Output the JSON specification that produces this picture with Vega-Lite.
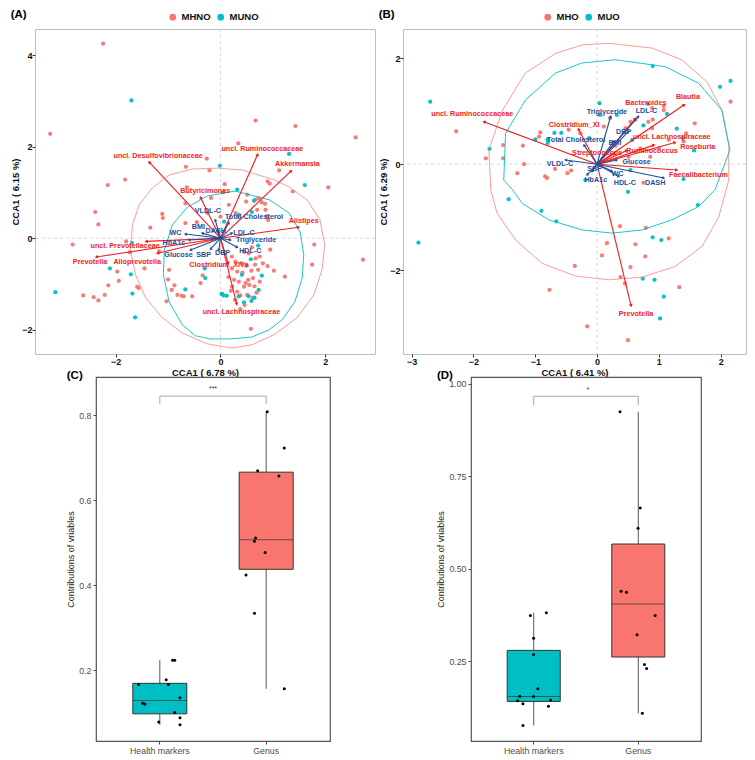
{
"$schema": "https://vega.github.io/schema/vega-lite/v6.json",
"padding": {"left": 10, "top": 8, "right": 0, "bottom": 0},
"background": "white",
"config": {"font": "Liberation Sans", "axis": {"grid": false, "domain": false}},
"datasets": {
"ptsA": [
{"x":-2.24,"y":4.25,"g":"MHNO"},{"x":-3.25,"y":2.28,"g":"MHNO"},{"x":0.67,"y":2.57,"g":"MHNO"},{"x":1.43,"y":2.45,"g":"MHNO"},{"x":2.58,"y":2.20,"g":"MHNO"},{"x":0.34,"y":2.07,"g":"MHNO"},{"x":-0.26,"y":1.74,"g":"MHNO"},{"x":-0.66,"y":1.56,"g":"MHNO"},{"x":-0.21,"y":1.48,"g":"MHNO"},{"x":1.12,"y":1.48,"g":"MHNO"},{"x":2.06,"y":1.11,"g":"MHNO"},{"x":-2.15,"y":1.16,"g":"MHNO"},{"x":-1.82,"y":1.28,"g":"MHNO"},{"x":0.08,"y":1.18,"g":"MHNO"},{"x":0.90,"y":1.24,"g":"MHNO"},{"x":0.94,"y":1.19,"g":"MHNO"},{"x":-0.64,"y":1.11,"g":"MHNO"},{"x":-2.39,"y":0.57,"g":"MHNO"},{"x":-2.33,"y":0.30,"g":"MHNO"},{"x":-2.82,"y":-0.14,"g":"MHNO"},{"x":-1.80,"y":-0.07,"g":"MHNO"},{"x":-1.73,"y":-0.31,"g":"MHNO"},{"x":-1.97,"y":-0.73,"g":"MHNO"},{"x":-1.45,"y":-0.66,"g":"MHNO"},{"x":-1.94,"y":-0.93,"g":"MHNO"},{"x":-2.14,"y":-1.03,"g":"MHNO"},{"x":-1.56,"y":-1.09,"g":"MHNO"},{"x":-2.21,"y":-1.24,"g":"MHNO"},{"x":-2.62,"y":-1.25,"g":"MHNO"},{"x":-2.42,"y":-1.29,"g":"MHNO"},{"x":-2.33,"y":-1.36,"g":"MHNO"},{"x":-1.11,"y":0.53,"g":"MHNO"},{"x":-1.10,"y":0.44,"g":"MHNO"},{"x":-0.67,"y":0.33,"g":"MHNO"},{"x":-1.34,"y":0.23,"g":"MHNO"},{"x":-1.00,"y":-0.90,"g":"MHNO"},{"x":-0.88,"y":-1.03,"g":"MHNO"},{"x":-0.74,"y":-1.26,"g":"MHNO"},{"x":-0.93,"y":-1.13,"g":"MHNO"},{"x":-0.54,"y":-1.27,"g":"MHNO"},{"x":-0.34,"y":-0.81,"g":"MHNO"},{"x":0.03,"y":-1.21,"g":"MHNO"},{"x":0.58,"y":-1.98,"g":"MHNO"},{"x":1.23,"y":-0.84,"g":"MHNO"},{"x":1.75,"y":-0.58,"g":"MHNO"},{"x":1.79,"y":-0.14,"g":"MHNO"},{"x":2.72,"y":-0.47,"g":"MHNO"},{"x":1.38,"y":1.02,"g":"MHNO"},{"x":0.89,"y":0.48,"g":"MHNO"},{"x":1.02,"y":-0.71,"g":"MHNO"},{"x":0.81,"y":-0.55,"g":"MHNO"},{"x":0.90,"y":-0.61,"g":"MHNO"},{"x":0.72,"y":-0.69,"g":"MHNO"},{"x":0.66,"y":-0.58,"g":"MHNO"},{"x":0.67,"y":-0.44,"g":"MHNO"},{"x":0.54,"y":-0.33,"g":"MHNO"},{"x":0.50,"y":-0.60,"g":"MHNO"},{"x":0.59,"y":-0.71,"g":"MHNO"},{"x":0.62,"y":-0.87,"g":"MHNO"},{"x":0.53,"y":-0.91,"g":"MHNO"},{"x":0.48,"y":-0.98,"g":"MHNO"},{"x":0.55,"y":-1.02,"g":"MHNO"},{"x":0.69,"y":-1.19,"g":"MHNO"},{"x":0.51,"y":-1.24,"g":"MHNO"},{"x":0.46,"y":-1.46,"g":"MHNO"},{"x":-0.98,"y":-0.69,"g":"MHNO"},{"x":-0.70,"y":-1.27,"g":"MHNO"},{"x":-0.82,"y":-1.24,"g":"MHNO"},{"x":-0.38,"y":-0.98,"g":"MHNO"},{"x":-1.03,"y":-1.38,"g":"MHNO"},{"x":0.22,"y":-0.40,"g":"MHNO"},{"x":0.29,"y":-0.51,"g":"MHNO"},{"x":0.22,"y":-0.66,"g":"MHNO"},{"x":0.32,"y":-0.73,"g":"MHNO"},{"x":0.26,"y":-0.91,"g":"MHNO"},{"x":0.35,"y":-0.95,"g":"MHNO"},{"x":0.22,"y":-1.06,"g":"MHNO"},{"x":0.45,"y":-1.06,"g":"MHNO"},{"x":0.32,"y":-1.17,"g":"MHNO"},{"x":-1.59,"y":-1.06,"g":"MHNO"},{"x":-1.17,"y":-0.29,"g":"MHNO"},{"x":0.05,"y":1.00,"g":"MHNO"},{"x":-0.18,"y":0.88,"g":"MHNO"},{"x":0.16,"y":0.73,"g":"MHNO"},{"x":-0.67,"y":0.76,"g":"MHNO"},{"x":0.00,"y":0.47,"g":"MHNO"},{"x":0.29,"y":0.55,"g":"MHNO"},{"x":0.51,"y":0.95,"g":"MHNO"},{"x":0.49,"y":0.80,"g":"MHNO"},{"x":0.67,"y":0.84,"g":"MHNO"},{"x":0.73,"y":0.87,"g":"MHNO"},{"x":0.79,"y":0.78,"g":"MHNO"},{"x":0.85,"y":0.75,"g":"MHNO"},{"x":0.86,"y":0.62,"g":"MHNO"},{"x":0.70,"y":0.62,"g":"MHNO"},{"x":0.91,"y":0.40,"g":"MHNO"},{"x":0.40,"y":-0.55,"g":"MHNO"},{"x":0.42,"y":-0.75,"g":"MHNO"},{"x":0.38,"y":-1.25,"g":"MHNO"},{"x":0.28,"y":-1.35,"g":"MHNO"},{"x":0.65,"y":-1.05,"g":"MHNO"},{"x":0.75,"y":-0.95,"g":"MHNO"},{"x":0.60,"y":-0.20,"g":"MHNO"},{"x":0.45,"y":-0.30,"g":"MHNO"},{"x":0.15,"y":-0.85,"g":"MHNO"},{"x":0.95,"y":-0.25,"g":"MHNO"},{"x":-0.45,"y":0.35,"g":"MHNO"},{"x":-0.25,"y":0.55,"g":"MHNO"},{"x":0.38,"y":-1.55,"g":"MHNO"},{"x":0.62,"y":-1.30,"g":"MHNO"},{"x":0.20,"y":-1.15,"g":"MHNO"},{"x":0.75,"y":-0.40,"g":"MHNO"},
{"x":-1.70,"y":3.01,"g":"MUNO"},{"x":1.31,"y":1.84,"g":"MUNO"},{"x":-0.01,"y":1.58,"g":"MUNO"},{"x":1.61,"y":1.16,"g":"MUNO"},{"x":-1.69,"y":-0.10,"g":"MUNO"},{"x":-2.11,"y":-0.66,"g":"MUNO"},{"x":-1.71,"y":-0.79,"g":"MUNO"},{"x":-3.15,"y":-1.18,"g":"MUNO"},{"x":-1.68,"y":-1.21,"g":"MUNO"},{"x":-1.63,"y":-1.73,"g":"MUNO"},{"x":-0.67,"y":-1.12,"g":"MUNO"},{"x":-0.30,"y":-0.66,"g":"MUNO"},{"x":0.06,"y":-1.25,"g":"MUNO"},{"x":0.79,"y":-0.82,"g":"MUNO"},{"x":0.73,"y":-1.13,"g":"MUNO"},{"x":0.72,"y":-0.16,"g":"MUNO"},{"x":0.58,"y":-0.46,"g":"MUNO"},{"x":0.54,"y":-1.27,"g":"MUNO"},{"x":0.59,"y":-1.37,"g":"MUNO"},{"x":-0.29,"y":-0.87,"g":"MUNO"},{"x":0.02,"y":-1.22,"g":"MUNO"},{"x":0.12,"y":-1.26,"g":"MUNO"},{"x":0.41,"y":-0.80,"g":"MUNO"},{"x":0.35,"y":-1.27,"g":"MUNO"},{"x":0.32,"y":1.06,"g":"MUNO"},{"x":0.07,"y":0.36,"g":"MUNO"},{"x":0.35,"y":0.51,"g":"MUNO"},{"x":0.64,"y":0.82,"g":"MUNO"},{"x":0.60,"y":0.57,"g":"MUNO"},{"x":0.45,"y":-1.40,"g":"MUNO"},{"x":0.65,"y":-1.30,"g":"MUNO"}
],
"ellA": [
{"x":-0.06,"y":1.53,"g":"MHNO","i":0},{"x":0.41,"y":1.49,"g":"MHNO","i":1},{"x":1.04,"y":1.27,"g":"MHNO","i":2},{"x":1.31,"y":1.12,"g":"MHNO","i":3},{"x":1.65,"y":0.84,"g":"MHNO","i":4},{"x":1.90,"y":0.40,"g":"MHNO","i":5},{"x":1.99,"y":-0.15,"g":"MHNO","i":6},{"x":1.94,"y":-0.69,"g":"MHNO","i":7},{"x":1.78,"y":-1.24,"g":"MHNO","i":8},{"x":1.46,"y":-1.74,"g":"MHNO","i":9},{"x":1.02,"y":-2.11,"g":"MHNO","i":10},{"x":0.60,"y":-2.33,"g":"MHNO","i":11},{"x":0.22,"y":-2.40,"g":"MHNO","i":12},{"x":-0.25,"y":-2.31,"g":"MHNO","i":13},{"x":-0.73,"y":-2.07,"g":"MHNO","i":14},{"x":-1.11,"y":-1.74,"g":"MHNO","i":15},{"x":-1.43,"y":-1.30,"g":"MHNO","i":16},{"x":-1.62,"y":-0.80,"g":"MHNO","i":17},{"x":-1.72,"y":-0.26,"g":"MHNO","i":18},{"x":-1.68,"y":0.29,"g":"MHNO","i":19},{"x":-1.55,"y":0.73,"g":"MHNO","i":20},{"x":-1.30,"y":1.10,"g":"MHNO","i":21},{"x":-0.98,"y":1.38,"g":"MHNO","i":22},{"x":-0.54,"y":1.51,"g":"MHNO","i":23},{"x":-0.06,"y":1.53,"g":"MHNO","i":24},
{"x":0.28,"y":1.03,"g":"MUNO","i":0},{"x":0.93,"y":0.84,"g":"MUNO","i":1},{"x":1.31,"y":0.55,"g":"MUNO","i":2},{"x":1.52,"y":0.14,"g":"MUNO","i":3},{"x":1.59,"y":-0.36,"g":"MUNO","i":4},{"x":1.56,"y":-0.87,"g":"MUNO","i":5},{"x":1.42,"y":-1.39,"g":"MUNO","i":6},{"x":1.18,"y":-1.78,"g":"MUNO","i":7},{"x":0.93,"y":-2.00,"g":"MUNO","i":8},{"x":0.60,"y":-2.16,"g":"MUNO","i":9},{"x":0.17,"y":-2.20,"g":"MUNO","i":10},{"x":-0.20,"y":-2.20,"g":"MUNO","i":11},{"x":-0.48,"y":-2.13,"g":"MUNO","i":12},{"x":-0.73,"y":-1.89,"g":"MUNO","i":13},{"x":-0.98,"y":-1.39,"g":"MUNO","i":14},{"x":-1.09,"y":-0.80,"g":"MUNO","i":15},{"x":-1.07,"y":-0.26,"g":"MUNO","i":16},{"x":-0.92,"y":0.29,"g":"MUNO","i":17},{"x":-0.63,"y":0.68,"g":"MUNO","i":18},{"x":-0.25,"y":0.92,"g":"MUNO","i":19},{"x":0.28,"y":1.03,"g":"MUNO","i":20}
],
"genA": [
{"n":"uncl. Desulfovibrionaceae","x":-1.36,"y":1.66,"lx":-1.19,"ly":1.79},
{"n":"uncl. Ruminococcaceae","x":0.71,"y":1.83,"lx":0.80,"ly":1.94},
{"n":"Akkermansia","x":1.35,"y":1.47,"lx":1.47,"ly":1.61},
{"n":"Butyricimonas","x":-0.38,"y":0.89,"lx":-0.29,"ly":1.04},
{"n":"Alistipes","x":1.49,"y":0.24,"lx":1.59,"ly":0.38},
{"n":"uncl. Prevotellaceae","x":-1.42,"y":-0.07,"lx":-1.82,"ly":-0.18},
{"n":"Prevotella","x":-2.37,"y":-0.41,"lx":-2.49,"ly":-0.52},
{"n":"Alloprevotella","x":-1.20,"y":-0.33,"lx":-1.59,"ly":-0.52},
{"n":"Clostridium_XIVa","x":0.15,"y":-0.55,"lx":-0.03,"ly":-0.58},
{"n":"uncl. Lachnospiraceae","x":0.31,"y":-1.44,"lx":0.40,"ly":-1.62}
],
"mkA": [
{"n":"VLDL-C","x":-0.10,"y":0.40,"lx":-0.24,"ly":0.60},
{"n":"Total Cholesterol","x":0.16,"y":0.34,"lx":0.64,"ly":0.47},
{"n":"BMI","x":-0.35,"y":0.11,"lx":-0.42,"ly":0.24},
{"n":"WC","x":-0.67,"y":0.09,"lx":-0.86,"ly":0.11},
{"n":"DASH","x":-0.06,"y":0.18,"lx":-0.09,"ly":0.15},
{"n":"LDL-C","x":0.22,"y":0.11,"lx":0.45,"ly":0.12},
{"n":"Triglyceride","x":0.19,"y":-0.04,"lx":0.68,"ly":-0.05},
{"n":"HDL-C","x":0.32,"y":-0.20,"lx":0.57,"ly":-0.28},
{"n":"HbA1c","x":-0.60,"y":-0.04,"lx":-0.89,"ly":-0.11},
{"n":"Glucose","x":-0.57,"y":-0.26,"lx":-0.80,"ly":-0.37},
{"n":"SBP","x":-0.19,"y":-0.24,"lx":-0.32,"ly":-0.37},
{"n":"DBP","x":-0.03,"y":-0.26,"lx":0.04,"ly":-0.33}
],
"ptsB": [
{"x":2.16,"y":1.18,"g":"MHO"},{"x":-2.28,"y":0.62,"g":"MHO"},{"x":-1.80,"y":0.11,"g":"MHO"},{"x":-1.52,"y":0.36,"g":"MHO"},{"x":-1.52,"y":0.11,"g":"MHO"},{"x":-1.29,"y":-0.17,"g":"MHO"},{"x":-1.18,"y":0.00,"g":"MHO"},{"x":-0.81,"y":-0.26,"g":"MHO"},{"x":-0.68,"y":-0.09,"g":"MHO"},{"x":-0.42,"y":-0.12,"g":"MHO"},{"x":-0.92,"y":0.60,"g":"MHO"},{"x":-0.94,"y":0.52,"g":"MHO"},{"x":-0.46,"y":0.65,"g":"MHO"},{"x":-0.27,"y":0.58,"g":"MHO"},{"x":0.11,"y":0.71,"g":"MHO"},{"x":0.21,"y":0.87,"g":"MHO"},{"x":0.89,"y":1.06,"g":"MHO"},{"x":1.08,"y":1.02,"g":"MHO"},{"x":1.08,"y":1.10,"g":"MHO"},{"x":0.90,"y":0.84,"g":"MHO"},{"x":0.54,"y":0.80,"g":"MHO"},{"x":0.89,"y":0.68,"g":"MHO"},{"x":1.58,"y":0.77,"g":"MHO"},{"x":1.44,"y":0.58,"g":"MHO"},{"x":1.16,"y":0.46,"g":"MHO"},{"x":0.75,"y":-0.35,"g":"MHO"},{"x":0.37,"y":-1.17,"g":"MHO"},{"x":0.79,"y":-1.20,"g":"MHO"},{"x":0.16,"y":-1.49,"g":"MHO"},{"x":0.62,"y":-1.51,"g":"MHO"},{"x":1.16,"y":-1.40,"g":"MHO"},{"x":0.08,"y":-1.72,"g":"MHO"},{"x":0.78,"y":-1.74,"g":"MHO"},{"x":-0.36,"y":-1.92,"g":"MHO"},{"x":0.54,"y":-1.94,"g":"MHO"},{"x":0.38,"y":-2.13,"g":"MHO"},{"x":0.45,"y":-2.25,"g":"MHO"},{"x":1.33,"y":-2.32,"g":"MHO"},{"x":-0.77,"y":-2.37,"g":"MHO"},{"x":-0.16,"y":-3.06,"g":"MHO"},{"x":0.50,"y":-3.32,"g":"MHO"},{"x":0.46,"y":0.68,"g":"MHO"},{"x":0.62,"y":0.84,"g":"MHO"},{"x":0.83,"y":0.80,"g":"MHO"},{"x":0.86,"y":0.14,"g":"MHO"},{"x":0.51,"y":0.14,"g":"MHO"},{"x":-0.48,"y":-0.17,"g":"MHO"},{"x":1.40,"y":0.43,"g":"MHO"},{"x":-0.84,"y":-0.23,"g":"MHO"},{"x":0.30,"y":0.35,"g":"MHO"},{"x":0.70,"y":0.30,"g":"MHO"},{"x":1.00,"y":0.30,"g":"MHO"},{"x":-1.20,"y":0.35,"g":"MHO"},
{"x":0.90,"y":1.85,"g":"MUO"},{"x":1.99,"y":1.46,"g":"MUO"},{"x":2.16,"y":1.57,"g":"MUO"},{"x":-2.70,"y":1.18,"g":"MUO"},{"x":-1.74,"y":0.29,"g":"MUO"},{"x":-1.00,"y":0.47,"g":"MUO"},{"x":-0.80,"y":0.47,"g":"MUO"},{"x":-0.69,"y":0.59,"g":"MUO"},{"x":-0.58,"y":0.59,"g":"MUO"},{"x":-0.13,"y":0.49,"g":"MUO"},{"x":0.04,"y":1.15,"g":"MUO"},{"x":0.05,"y":0.93,"g":"MUO"},{"x":0.32,"y":0.93,"g":"MUO"},{"x":0.82,"y":1.14,"g":"MUO"},{"x":1.13,"y":0.95,"g":"MUO"},{"x":0.75,"y":0.73,"g":"MUO"},{"x":1.29,"y":0.67,"g":"MUO"},{"x":1.39,"y":0.50,"g":"MUO"},{"x":1.57,"y":0.26,"g":"MUO"},{"x":0.57,"y":0.46,"g":"MUO"},{"x":1.40,"y":-0.28,"g":"MUO"},{"x":0.54,"y":-0.11,"g":"MUO"},{"x":-0.19,"y":-0.30,"g":"MUO"},{"x":-1.43,"y":-0.66,"g":"MUO"},{"x":-0.90,"y":-0.88,"g":"MUO"},{"x":-0.66,"y":-1.08,"g":"MUO"},{"x":-2.89,"y":-1.48,"g":"MUO"},{"x":0.50,"y":-0.52,"g":"MUO"},{"x":1.63,"y":-0.77,"g":"MUO"},{"x":0.90,"y":-1.38,"g":"MUO"},{"x":1.04,"y":-1.43,"g":"MUO"},{"x":0.74,"y":-2.16,"g":"MUO"},{"x":0.93,"y":-2.18,"g":"MUO"},{"x":1.08,"y":-2.50,"g":"MUO"},{"x":1.02,"y":-2.91,"g":"MUO"},{"x":-0.80,"y":0.40,"g":"MUO"}
],
"ellB": [
{"x":0.19,"y":2.28,"g":"MHO","i":0},{"x":0.89,"y":2.19,"g":"MHO","i":1},{"x":1.37,"y":1.97,"g":"MHO","i":2},{"x":1.78,"y":1.55,"g":"MHO","i":3},{"x":2.02,"y":1.02,"g":"MHO","i":4},{"x":2.13,"y":0.36,"g":"MHO","i":5},{"x":2.13,"y":-0.30,"g":"MHO","i":6},{"x":1.97,"y":-0.99,"g":"MHO","i":7},{"x":1.70,"y":-1.55,"g":"MHO","i":8},{"x":1.26,"y":-1.93,"g":"MHO","i":9},{"x":0.73,"y":-2.13,"g":"MHO","i":10},{"x":0.19,"y":-2.18,"g":"MHO","i":11},{"x":-0.35,"y":-2.11,"g":"MHO","i":12},{"x":-0.89,"y":-1.87,"g":"MHO","i":13},{"x":-1.32,"y":-1.43,"g":"MHO","i":14},{"x":-1.62,"y":-0.92,"g":"MHO","i":15},{"x":-1.72,"y":-0.48,"g":"MHO","i":16},{"x":-1.75,"y":0.27,"g":"MHO","i":17},{"x":-1.53,"y":1.02,"g":"MHO","i":18},{"x":-1.16,"y":1.72,"g":"MHO","i":19},{"x":-0.67,"y":2.09,"g":"MHO","i":20},{"x":-0.24,"y":2.25,"g":"MHO","i":21},{"x":0.19,"y":2.28,"g":"MHO","i":22},
{"x":0.30,"y":1.97,"g":"MUO","i":0},{"x":1.10,"y":1.84,"g":"MUO","i":1},{"x":1.64,"y":1.53,"g":"MUO","i":2},{"x":2.02,"y":1.02,"g":"MUO","i":3},{"x":2.15,"y":0.27,"g":"MUO","i":4},{"x":1.91,"y":-0.48,"g":"MUO","i":5},{"x":1.64,"y":-0.80,"g":"MUO","i":6},{"x":1.21,"y":-1.05,"g":"MUO","i":7},{"x":0.73,"y":-1.24,"g":"MUO","i":8},{"x":0.24,"y":-1.30,"g":"MUO","i":9},{"x":-0.24,"y":-1.24,"g":"MUO","i":10},{"x":-0.78,"y":-1.05,"g":"MUO","i":11},{"x":-1.21,"y":-0.74,"g":"MUO","i":12},{"x":-1.37,"y":-0.48,"g":"MUO","i":13},{"x":-1.51,"y":-0.30,"g":"MUO","i":14},{"x":-1.48,"y":0.58,"g":"MUO","i":15},{"x":-1.16,"y":1.21,"g":"MUO","i":16},{"x":-0.67,"y":1.72,"g":"MUO","i":17},{"x":-0.24,"y":1.91,"g":"MUO","i":18},{"x":0.30,"y":1.97,"g":"MUO","i":19}
],
"genB": [
{"n":"uncl. Ruminococcaceae","x":-1.83,"y":0.80,"lx":-2.02,"ly":0.95},
{"n":"Blautia","x":1.41,"y":1.12,"lx":1.47,"ly":1.26},
{"n":"Bacteroides","x":0.62,"y":0.86,"lx":0.79,"ly":1.15},
{"n":"Clostridium_XI","x":-0.30,"y":0.66,"lx":-0.37,"ly":0.74},
{"n":"uncl. Lachnospiraceae","x":0.92,"y":0.36,"lx":1.21,"ly":0.52},
{"n":"Roseburia","x":1.26,"y":0.41,"lx":1.63,"ly":0.33},
{"n":"Ruminococcus","x":0.48,"y":0.26,"lx":0.89,"ly":0.24},
{"n":"Streptococcus","x":0.28,"y":0.20,"lx":0.00,"ly":0.21},
{"n":"Faecalibacterium","x":1.29,"y":-0.11,"lx":1.64,"ly":-0.20},
{"n":"Prevotella","x":0.55,"y":-2.67,"lx":0.63,"ly":-2.82}
],
"mkB": [
{"n":"Triglyceride","x":0.22,"y":0.90,"lx":0.16,"ly":0.99},
{"n":"LDL-C","x":0.67,"y":0.90,"lx":0.80,"ly":1.00},
{"n":"DBP","x":0.51,"y":0.62,"lx":0.43,"ly":0.60},
{"n":"BMI","x":0.27,"y":0.43,"lx":0.29,"ly":0.40},
{"n":"Total Cholesterol","x":-0.21,"y":0.36,"lx":-0.34,"ly":0.46},
{"n":"VLDL-C","x":-0.51,"y":0.08,"lx":-0.60,"ly":0.00},
{"n":"Glucose","x":0.32,"y":0.08,"lx":0.64,"ly":0.04},
{"n":"SBP","x":-0.08,"y":-0.14,"lx":-0.04,"ly":-0.09},
{"n":"HbA1c","x":-0.16,"y":-0.20,"lx":-0.02,"ly":-0.30},
{"n":"WC","x":0.24,"y":-0.13,"lx":0.33,"ly":-0.18},
{"n":"HDL-C","x":0.35,"y":-0.23,"lx":0.45,"ly":-0.35},
{"n":"DASH","x":1.08,"y":-0.26,"lx":0.94,"ly":-0.36}
],
"boxC": [
{"g":"Health markers","v":0.166,"j":-0.20},{"g":"Health markers","v":0.122,"j":-0.16},{"g":"Health markers","v":0.120,"j":-0.14},{"g":"Health markers","v":0.078,"j":-0.01},{"g":"Health markers","v":0.177,"j":0.06},{"g":"Health markers","v":0.166,"j":0.08},{"g":"Health markers","v":0.223,"j":0.12},{"g":"Health markers","v":0.223,"j":0.14},{"g":"Health markers","v":0.100,"j":0.14},{"g":"Health markers","v":0.135,"j":0.19},{"g":"Health markers","v":0.088,"j":0.19},{"g":"Health markers","v":0.071,"j":0.19},
{"g":"Genus","v":0.808,"j":0.01},{"g":"Genus","v":0.723,"j":0.17},{"g":"Genus","v":0.669,"j":-0.08},{"g":"Genus","v":0.657,"j":0.12},{"g":"Genus","v":0.511,"j":-0.10},{"g":"Genus","v":0.503,"j":-0.11},{"g":"Genus","v":0.477,"j":-0.01},{"g":"Genus","v":0.424,"j":-0.19},{"g":"Genus","v":0.334,"j":-0.11},{"g":"Genus","v":0.156,"j":0.17}
],
"boxD": [
{"g":"Health markers","v":0.373,"j":-0.04},{"g":"Health markers","v":0.381,"j":0.11},{"g":"Health markers","v":0.312,"j":-0.01},{"g":"Health markers","v":0.268,"j":-0.01},{"g":"Health markers","v":0.175,"j":0.03},{"g":"Health markers","v":0.155,"j":-0.14},{"g":"Health markers","v":0.154,"j":-0.01},{"g":"Health markers","v":0.143,"j":-0.16},{"g":"Health markers","v":0.135,"j":-0.11},{"g":"Health markers","v":0.145,"j":0.15},{"g":"Health markers","v":0.128,"j":0.13},{"g":"Health markers","v":0.076,"j":-0.11},
{"g":"Genus","v":0.924,"j":-0.18},{"g":"Genus","v":0.664,"j":0.01},{"g":"Genus","v":0.609,"j":-0.01},{"g":"Genus","v":0.439,"j":-0.17},{"g":"Genus","v":0.436,"j":-0.12},{"g":"Genus","v":0.373,"j":0.15},{"g":"Genus","v":0.321,"j":-0.02},{"g":"Genus","v":0.241,"j":0.05},{"g":"Genus","v":0.230,"j":0.07},{"g":"Genus","v":0.109,"j":0.03}
],
"brC": [{"g":"Health markers","v":0.826,"i":0},{"g":"Health markers","v":0.845,"i":1},{"g":"Genus","v":0.845,"i":2},{"g":"Genus","v":0.826,"i":3}],
"brD": [{"g":"Health markers","v":0.942,"i":0},{"g":"Health markers","v":0.966,"i":1},{"g":"Genus","v":0.966,"i":2},{"g":"Genus","v":0.942,"i":3}],
"sigC": [{"g":"Health markers","v":0.862,"j":0.5,"t":"***"}],
"sigD": [{"g":"Health markers","v":0.982,"j":0.5,"t":"*"}]
},
"vconcat": [
{"hconcat": [
{"width": 340, "height": 325,
 "title": {"text": "(A)", "anchor": "start", "frame": "bounds", "fontSize": 11.5, "fontWeight": "bold", "offset": -8, "color": "#000"},
 "view": {"stroke": "#BFBFBF", "strokeWidth": 1},
 "layer": [
  {"data": {"values": [{"z": 0}]}, "mark": {"type": "rule", "strokeDash": [3,3], "color": "#CCCCCC", "strokeWidth": 0.8}, "encoding": {"x": {"field": "z", "type": "quantitative"}}},
  {"data": {"values": [{"z": 0}]}, "mark": {"type": "rule", "strokeDash": [3,3], "color": "#CCCCCC", "strokeWidth": 0.8}, "encoding": {"y": {"field": "z", "type": "quantitative"}}},
  {"data": {"name": "ptsA"}, "mark": {"type": "circle", "size": 18, "opacity": 0.95},
   "encoding": {
    "x": {"field": "x", "type": "quantitative", "scale": {"domain": [-3.54, 2.95], "nice": false, "zero": false}, "axis": {"title": "CCA1 ( 6.78 %)", "values": [-2,0,2], "format": "d", "labelFontWeight": "bold", "labelFontSize": 9, "labelColor": "#111", "titleFontSize": 9.5, "titleFontWeight": "bold", "titleColor": "#111", "tickColor": "#333", "tickSize": 3, "labelPadding": 0, "titlePadding": 1}},
    "y": {"field": "y", "type": "quantitative", "scale": {"domain": [-2.53, 4.57], "nice": false, "zero": false}, "axis": {"title": "CCA1 ( 6.15 %)", "values": [-2,0,2,4], "format": "d", "labelFontWeight": "bold", "labelFontSize": 9, "labelColor": "#111", "titleFontSize": 9.5, "titleFontWeight": "bold", "titleColor": "#111", "tickColor": "#333", "tickSize": 3, "labelPadding": 0, "titlePadding": 1}},
    "color": {"field": "g", "type": "nominal", "scale": {"domain": ["MHNO","MUNO"], "range": ["#F8766D","#00BFC4"]}, "legend": {"orient": "none", "legendX": 133, "legendY": -17, "direction": "horizontal", "title": null, "labelFontWeight": "bold", "labelFontSize": 9.5, "labelColor": "#111", "symbolType": "circle", "symbolSize": 45, "symbolOpacity": 1, "columnPadding": 5, "labelOffset": 4}}
   }},
  {"data": {"name": "ellA"}, "transform": [{"filter": "datum.g === 'MHNO'"}], "mark": {"type": "line", "color": "#F8766D", "strokeWidth": 0.9, "opacity": 0.8}, "encoding": {"x": {"field": "x", "type": "quantitative"}, "y": {"field": "y", "type": "quantitative"}, "order": {"field": "i", "type": "quantitative"}}},
  {"data": {"name": "ellA"}, "transform": [{"filter": "datum.g === 'MUNO'"}], "mark": {"type": "line", "color": "#00BFC4", "strokeWidth": 0.9}, "encoding": {"x": {"field": "x", "type": "quantitative"}, "y": {"field": "y", "type": "quantitative"}, "order": {"field": "i", "type": "quantitative"}}},
  {"data": {"name": "genA"}, "mark": {"type": "rule", "color": "#F21B1B", "strokeWidth": 1.1}, "encoding": {"x": {"field": "x", "type": "quantitative"}, "y": {"field": "y", "type": "quantitative"}, "x2": {"datum": 0}, "y2": {"datum": 0}}},
  {"data": {"name": "genA"}, "transform": [{"calculate": "atan2(datum.x*52.5, datum.y*45.8)*180/PI", "as": "a"}], "mark": {"type": "point", "shape": "triangle-up", "filled": true, "size": 14, "color": "#F21B1B", "opacity": 1}, "encoding": {"x": {"field": "x", "type": "quantitative"}, "y": {"field": "y", "type": "quantitative"}, "angle": {"field": "a", "type": "quantitative", "scale": null}}},
  {"data": {"name": "mkA"}, "mark": {"type": "rule", "color": "#1F4E9A", "strokeWidth": 1.1}, "encoding": {"x": {"field": "x", "type": "quantitative"}, "y": {"field": "y", "type": "quantitative"}, "x2": {"datum": 0}, "y2": {"datum": 0}}},
  {"data": {"name": "mkA"}, "transform": [{"calculate": "atan2(datum.x*52.5, datum.y*45.8)*180/PI", "as": "a"}], "mark": {"type": "point", "shape": "triangle-up", "filled": true, "size": 12, "color": "#1F4E9A", "opacity": 1}, "encoding": {"x": {"field": "x", "type": "quantitative"}, "y": {"field": "y", "type": "quantitative"}, "angle": {"field": "a", "type": "quantitative", "scale": null}}},
  {"data": {"name": "genA"}, "mark": {"type": "text", "fontWeight": "bold", "fontSize": 7.2, "color": "#F21B1B"}, "encoding": {"x": {"field": "lx", "type": "quantitative"}, "y": {"field": "ly", "type": "quantitative"}, "text": {"field": "n", "type": "nominal"}}},
  {"data": {"name": "mkA"}, "mark": {"type": "text", "fontWeight": "bold", "fontSize": 7.2, "color": "#1F4E9A"}, "encoding": {"x": {"field": "lx", "type": "quantitative"}, "y": {"field": "ly", "type": "quantitative"}, "text": {"field": "n", "type": "nominal"}}}
 ]},
{"width": 343, "height": 325,
 "title": {"text": "(B)", "anchor": "start", "frame": "bounds", "fontSize": 11.5, "fontWeight": "bold", "offset": -8, "color": "#000"},
 "view": {"stroke": "#BFBFBF", "strokeWidth": 1},
 "layer": [
  {"data": {"values": [{"z": 0}]}, "mark": {"type": "rule", "strokeDash": [3,3], "color": "#CCCCCC", "strokeWidth": 0.8}, "encoding": {"x": {"field": "z", "type": "quantitative"}}},
  {"data": {"values": [{"z": 0}]}, "mark": {"type": "rule", "strokeDash": [3,3], "color": "#CCCCCC", "strokeWidth": 0.8}, "encoding": {"y": {"field": "z", "type": "quantitative"}}},
  {"data": {"name": "ptsB"}, "mark": {"type": "circle", "size": 18, "opacity": 0.95},
   "encoding": {
    "x": {"field": "x", "type": "quantitative", "scale": {"domain": [-3.14, 2.41], "nice": false, "zero": false}, "axis": {"title": "CCA1 ( 6.41 %)", "values": [-3,-2,-1,0,1,2], "format": "d", "labelFontWeight": "bold", "labelFontSize": 9, "labelColor": "#111", "titleFontSize": 9.5, "titleFontWeight": "bold", "titleColor": "#111", "tickColor": "#333", "tickSize": 3, "labelPadding": 0, "titlePadding": 1}},
    "y": {"field": "y", "type": "quantitative", "scale": {"domain": [-3.58, 2.55], "nice": false, "zero": false}, "axis": {"title": "CCA1 ( 6.29 %)", "values": [-2,0,2], "format": "d", "labelFontWeight": "bold", "labelFontSize": 9, "labelColor": "#111", "titleFontSize": 9.5, "titleFontWeight": "bold", "titleColor": "#111", "tickColor": "#333", "tickSize": 3, "labelPadding": 0, "titlePadding": 1}},
    "color": {"field": "g", "type": "nominal", "scale": {"domain": ["MHO","MUO"], "range": ["#F8766D","#00BFC4"]}, "legend": {"orient": "none", "legendX": 140, "legendY": -17, "direction": "horizontal", "title": null, "labelFontWeight": "bold", "labelFontSize": 9.5, "labelColor": "#111", "symbolType": "circle", "symbolSize": 45, "symbolOpacity": 1, "columnPadding": 5, "labelOffset": 4}}
   }},
  {"data": {"name": "ellB"}, "transform": [{"filter": "datum.g === 'MHO'"}], "mark": {"type": "line", "color": "#F8766D", "strokeWidth": 0.9, "opacity": 0.8}, "encoding": {"x": {"field": "x", "type": "quantitative"}, "y": {"field": "y", "type": "quantitative"}, "order": {"field": "i", "type": "quantitative"}}},
  {"data": {"name": "ellB"}, "transform": [{"filter": "datum.g === 'MUO'"}], "mark": {"type": "line", "color": "#00BFC4", "strokeWidth": 0.9}, "encoding": {"x": {"field": "x", "type": "quantitative"}, "y": {"field": "y", "type": "quantitative"}, "order": {"field": "i", "type": "quantitative"}}},
  {"data": {"name": "genB"}, "mark": {"type": "rule", "color": "#F21B1B", "strokeWidth": 1.1}, "encoding": {"x": {"field": "x", "type": "quantitative"}, "y": {"field": "y", "type": "quantitative"}, "x2": {"datum": 0}, "y2": {"datum": 0}}},
  {"data": {"name": "genB"}, "transform": [{"calculate": "atan2(datum.x*61.8, datum.y*53)*180/PI", "as": "a"}], "mark": {"type": "point", "shape": "triangle-up", "filled": true, "size": 14, "color": "#F21B1B", "opacity": 1}, "encoding": {"x": {"field": "x", "type": "quantitative"}, "y": {"field": "y", "type": "quantitative"}, "angle": {"field": "a", "type": "quantitative", "scale": null}}},
  {"data": {"name": "mkB"}, "mark": {"type": "rule", "color": "#1F4E9A", "strokeWidth": 1.1}, "encoding": {"x": {"field": "x", "type": "quantitative"}, "y": {"field": "y", "type": "quantitative"}, "x2": {"datum": 0}, "y2": {"datum": 0}}},
  {"data": {"name": "mkB"}, "transform": [{"calculate": "atan2(datum.x*61.8, datum.y*53)*180/PI", "as": "a"}], "mark": {"type": "point", "shape": "triangle-up", "filled": true, "size": 12, "color": "#1F4E9A", "opacity": 1}, "encoding": {"x": {"field": "x", "type": "quantitative"}, "y": {"field": "y", "type": "quantitative"}, "angle": {"field": "a", "type": "quantitative", "scale": null}}},
  {"data": {"name": "genB"}, "mark": {"type": "text", "fontWeight": "bold", "fontSize": 7.2, "color": "#F21B1B"}, "encoding": {"x": {"field": "lx", "type": "quantitative"}, "y": {"field": "ly", "type": "quantitative"}, "text": {"field": "n", "type": "nominal"}}},
  {"data": {"name": "mkB"}, "mark": {"type": "text", "fontWeight": "bold", "fontSize": 7.2, "color": "#1F4E9A"}, "encoding": {"x": {"field": "lx", "type": "quantitative"}, "y": {"field": "ly", "type": "quantitative"}, "text": {"field": "n", "type": "nominal"}}}
 ]}
], "spacing": 2, "resolve": {"scale": {"x": "independent", "y": "independent", "color": "independent"}, "legend": {"color": "independent"}}},
{"hconcat": [
 {"width": 31, "height": 364, "data": {"values": [{"t": ""}]}, "mark": {"type": "text"}, "encoding": {"text": {"field": "t", "type": "nominal"}}, "view": {"stroke": null}},
 {"hconcat": [
  {"width": 234, "height": 364,
   "title": {"text": "(C)", "anchor": "start", "frame": "bounds", "fontSize": 11.5, "fontWeight": "bold", "offset": -4, "color": "#000"},
   "view": {"stroke": "#555555", "strokeWidth": 1.2},
   "layer": [
    {"data": {"name": "boxC"}, "mark": {"type": "boxplot", "extent": 1.5, "size": 54, "ticks": false, "outliers": false, "median": {"color": "#333333", "strokeWidth": 1.5}, "rule": {"color": "#555555", "strokeWidth": 1}, "box": {"stroke": "#333333", "strokeWidth": 1}},
     "encoding": {
      "x": {"field": "g", "type": "nominal", "title": null, "scale": {"domain": ["Health markers","Genus"], "paddingInner": 0, "paddingOuter": 0.1}, "axis": {"labelFontSize": 8.8, "labelColor": "#4D4D4D", "tickColor": "#4D4D4D", "tickSize": 3, "labelPadding": 2, "labelAngle": 0}},
      "y": {"field": "v", "type": "quantitative", "title": "Contributions of vriables", "scale": {"domain": [0.033, 0.89], "nice": false, "zero": false}, "axis": {"values": [0.2,0.4,0.6,0.8], "format": ".1f", "labelFontSize": 8.8, "labelColor": "#4D4D4D", "tickColor": "#4D4D4D", "tickSize": 3, "labelPadding": 2, "titleFontWeight": "normal", "titleFontSize": 9, "titleColor": "#1a1a1a", "titlePadding": 3}},
      "color": {"field": "g", "type": "nominal", "scale": {"domain": ["Health markers","Genus"], "range": ["#00BFC4","#F8766D"]}, "legend": null}
     }},
    {"data": {"name": "boxC"}, "mark": {"type": "circle", "size": 9, "color": "#000000", "opacity": 1},
     "encoding": {"x": {"field": "g", "type": "nominal", "title": null}, "xOffset": {"field": "j", "type": "quantitative", "scale": {"domain": [-0.5, 0.5]}}, "y": {"field": "v", "type": "quantitative", "title": "Contributions of vriables"}}},
    {"data": {"name": "brC"}, "mark": {"type": "line", "color": "#A6A6A6", "strokeWidth": 1},
     "encoding": {"x": {"field": "g", "type": "nominal", "title": null}, "y": {"field": "v", "type": "quantitative", "title": "Contributions of vriables"}, "order": {"field": "i", "type": "quantitative"}}},
    {"data": {"name": "sigC"}, "mark": {"type": "text", "fontSize": 7, "color": "#333333"},
     "encoding": {"x": {"field": "g", "type": "nominal", "title": null}, "xOffset": {"field": "j", "type": "quantitative"}, "y": {"field": "v", "type": "quantitative", "title": "Contributions of vriables"}, "text": {"field": "t", "type": "nominal"}}}
   ]},
  {"width": 230, "height": 364,
   "title": {"text": "(D)", "anchor": "start", "frame": "bounds", "fontSize": 11.5, "fontWeight": "bold", "offset": -4, "color": "#000"},
   "view": {"stroke": "#555555", "strokeWidth": 1.2},
   "layer": [
    {"data": {"name": "boxD"}, "mark": {"type": "boxplot", "extent": 1.5, "size": 53, "ticks": false, "outliers": false, "median": {"color": "#333333", "strokeWidth": 1.5}, "rule": {"color": "#555555", "strokeWidth": 1}, "box": {"stroke": "#333333", "strokeWidth": 1}},
     "encoding": {
      "x": {"field": "g", "type": "nominal", "title": null, "scale": {"domain": ["Health markers","Genus"], "paddingInner": 0, "paddingOuter": 0.1}, "axis": {"labelFontSize": 8.8, "labelColor": "#4D4D4D", "tickColor": "#4D4D4D", "tickSize": 3, "labelPadding": 2, "labelAngle": 0}},
      "y": {"field": "v", "type": "quantitative", "title": "Contributions of vriables", "scale": {"domain": [0.034, 1.018], "nice": false, "zero": false}, "axis": {"values": [0.25,0.5,0.75,1], "format": ".2f", "labelFontSize": 8.8, "labelColor": "#4D4D4D", "tickColor": "#4D4D4D", "tickSize": 3, "labelPadding": 2, "titleFontWeight": "normal", "titleFontSize": 9, "titleColor": "#1a1a1a", "titlePadding": 3}},
      "color": {"field": "g", "type": "nominal", "scale": {"domain": ["Health markers","Genus"], "range": ["#00BFC4","#F8766D"]}, "legend": null}
     }},
    {"data": {"name": "boxD"}, "mark": {"type": "circle", "size": 9, "color": "#000000", "opacity": 1},
     "encoding": {"x": {"field": "g", "type": "nominal", "title": null}, "xOffset": {"field": "j", "type": "quantitative", "scale": {"domain": [-0.5, 0.5]}}, "y": {"field": "v", "type": "quantitative", "title": "Contributions of vriables"}}},
    {"data": {"name": "brD"}, "mark": {"type": "line", "color": "#A6A6A6", "strokeWidth": 1},
     "encoding": {"x": {"field": "g", "type": "nominal", "title": null}, "y": {"field": "v", "type": "quantitative", "title": "Contributions of vriables"}, "order": {"field": "i", "type": "quantitative"}}},
    {"data": {"name": "sigD"}, "mark": {"type": "text", "fontSize": 7, "color": "#333333"},
     "encoding": {"x": {"field": "g", "type": "nominal", "title": null}, "xOffset": {"field": "j", "type": "quantitative"}, "y": {"field": "v", "type": "quantitative", "title": "Contributions of vriables"}, "text": {"field": "t", "type": "nominal"}}}
   ]}
 ], "spacing": 105, "resolve": {"scale": {"x": "independent", "y": "independent", "color": "independent"}}}
], "spacing": 0, "resolve": {"scale": {"x": "independent", "y": "independent"}}}
],
"spacing": -11,
"resolve": {"scale": {"x": "independent", "y": "independent", "color": "independent"}, "legend": {"color": "independent"}}
}
